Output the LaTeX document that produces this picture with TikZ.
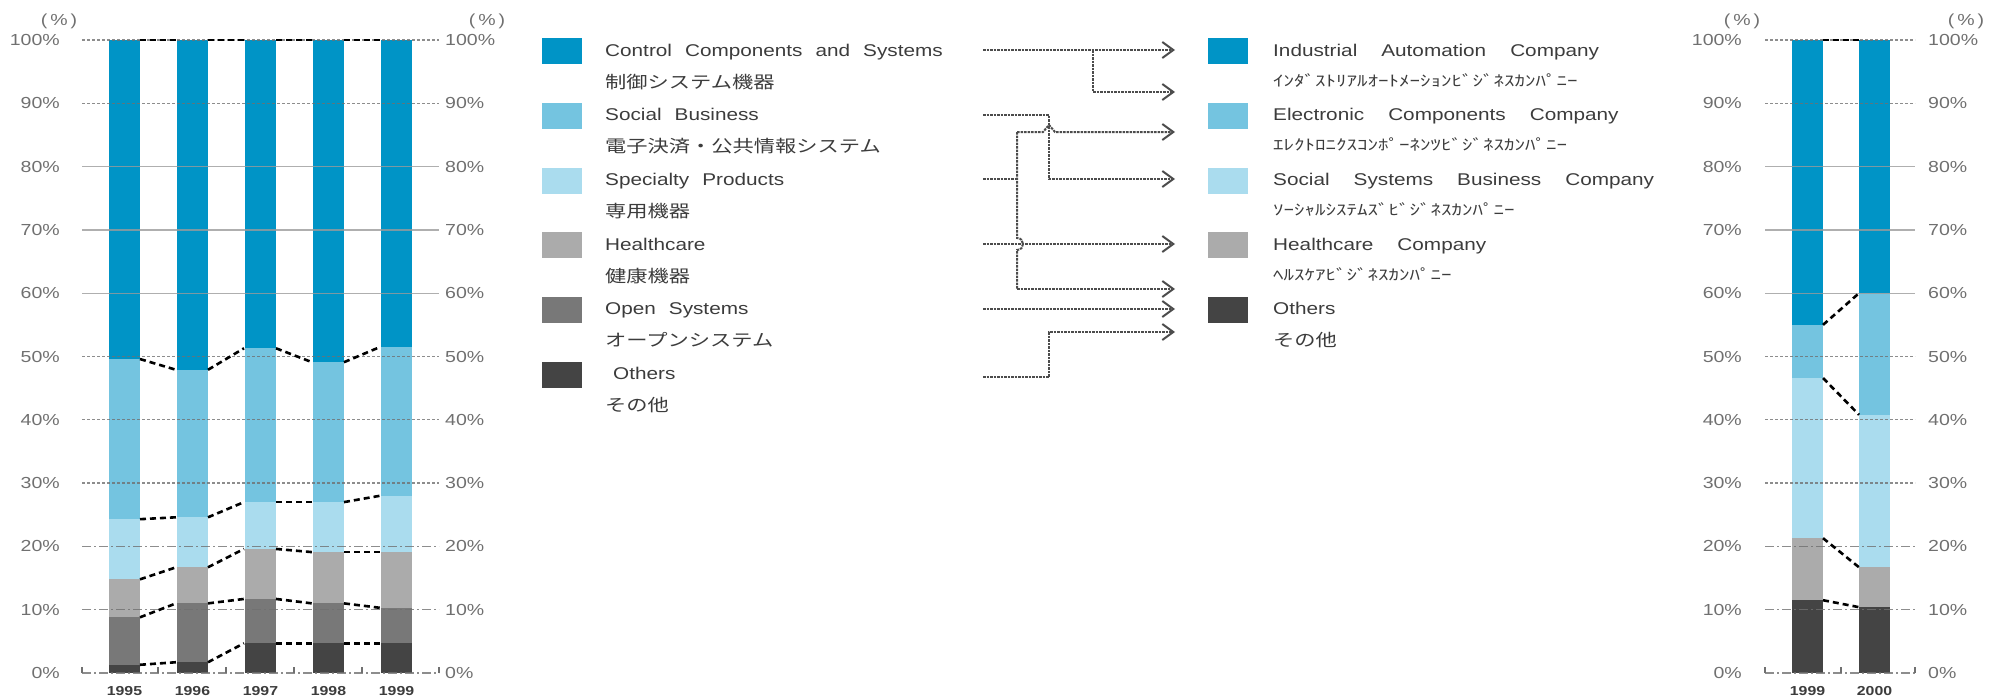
\documentclass[tikz,border=0pt]{standalone}
\usepackage{fontspec}
\setmainfont{Liberation Sans}[FakeStretch=1.22]
\newfontfamily\jpfont{Noto Sans CJK JP}[FakeStretch=1.25]
\newfontfamily\jpkana{Noto Sans CJK JP}[FakeStretch=1.4]
\usetikzlibrary{arrows.meta}
\definecolor{cIA}{HTML}{0094C6}
\definecolor{cSB}{HTML}{74C4E0}
\definecolor{cSP}{HTML}{AADCEE}
\definecolor{cHC}{HTML}{ABABAB}
\definecolor{cOS}{HTML}{787878}
\definecolor{cOT}{HTML}{444444}
\definecolor{txt}{HTML}{3C3C3C}
\definecolor{axt}{HTML}{707070}
\newcommand\lgap{\hspace{13pt}}
\newcommand\rgap{\hspace{24pt}}
\begin{document}
\begin{tikzpicture}[x=1pt,y=-1pt,
  conn/.style={line width=2.6pt, dash pattern=on 6pt off 4pt, black},
  gdash/.style={axt, line width=1.3pt, dash pattern=on 3pt off 2pt, opacity=0.8},
  gsolid/.style={axt!70, line width=1.3pt, opacity=0.8},
  gdot/.style={axt, line width=1.3pt, dash pattern=on 9pt off 3pt on 2pt off 3pt, opacity=0.8},
  axl/.style={font=\fontsize{16}{16}\selectfont, text=axt, inner sep=0pt},
  yrl/.style={font=\fontsize{13}{13}\selectfont\bfseries, text=txt, inner sep=0pt},
  sw/.style={minimum width=40pt, minimum height=26pt, inner sep=0pt, anchor=north west},
  en/.style={font=\fontsize{17}{17}\selectfont, text=txt, inner sep=0pt, anchor=base west},
  ja/.style={font=\jpfont\fontsize{17}{17}\selectfont, text=txt, inner sep=0pt, anchor=base west},
  jk/.style={font=\jpkana\fontsize{15}{15}\selectfont, text=txt, inner sep=0pt, anchor=base west},
  flow/.style={line width=2pt, draw=black!70, dash pattern=on 2.5pt off 1pt},
  fa/.style={flow, -{Straight Barb[length=11pt,width=16pt,line width=2pt]}}]
\useasboundingbox (0,0) rectangle (2004,699);

% ===== left chart bars =====
\foreach \x/\a/\b/\c/\d/\e in {109/1.3/8.8/14.8/24.3/49.6,177/1.7/11/16.7/24.6/47.9,245/4.7/11.7/19.6/27/51.3,313/4.7/11/19.1/27/49.1,381/4.7/10.3/19.1/28/51.5}{
  \fill[cOT] (\x,673) rectangle (\x+31,673-6.33*\a);
  \fill[cOS] (\x,673-6.33*\a) rectangle (\x+31,673-6.33*\b);
  \fill[cHC] (\x,673-6.33*\b) rectangle (\x+31,673-6.33*\c);
  \fill[cSP] (\x,673-6.33*\c) rectangle (\x+31,673-6.33*\d);
  \fill[cSB] (\x,673-6.33*\d) rectangle (\x+31,673-6.33*\e);
  \fill[cIA] (\x,673-6.33*\e) rectangle (\x+31,40);
}
% ===== right chart bars =====
\foreach \x/\a/\b/\c/\d in {1792/11.5/21.3/46.6/55,1859/10.4/16.7/40.8/60}{
  \fill[cOT] (\x,673) rectangle (\x+31,673-6.33*\a);
  \fill[cHC] (\x,673-6.33*\a) rectangle (\x+31,673-6.33*\b);
  \fill[cSP] (\x,673-6.33*\b) rectangle (\x+31,673-6.33*\c);
  \fill[cSB] (\x,673-6.33*\c) rectangle (\x+31,673-6.33*\d);
  \fill[cIA] (\x,673-6.33*\d) rectangle (\x+31,40);
}

% ===== gridlines =====
\foreach \xl/\xr in {82/439,1765/1915}{
  \foreach \p in {100,90,50,40,30} \draw[gdash] (\xl,673-6.33*\p) -- (\xr,673-6.33*\p);
  \foreach \p in {80,70,60} \draw[gsolid] (\xl,673-6.33*\p) -- (\xr,673-6.33*\p);
  \foreach \p in {20,10,0} \draw[gdot] (\xl,673-6.33*\p) -- (\xr,673-6.33*\p);
}
\foreach \t in {82,158,226,294,362,439,1765,1841,1915}
  \draw[axt, line width=1.3pt] (\t,673) -- (\t,667);

% ===== connectors between bars =====
\foreach \xa/\pa/\pb in {109/1.3/1.7,109/8.8/11,109/14.8/16.7,109/24.3/24.6,109/49.6/47.9,109/100/100,
  177/1.7/4.7,177/11/11.7,177/16.7/19.6,177/24.6/27,177/47.9/51.3,177/100/100,
  245/4.7/4.7,245/11.7/11,245/19.6/19.1,245/27/27,245/51.3/49.1,245/100/100,
  313/4.7/4.7,313/11/10.3,313/19.1/19.1,313/27/28,313/49.1/51.5,313/100/100,
  1792/11.5/10.4,1792/21.3/16.7,1792/46.6/40.8,1792/55/60,1792/100/100}
  \draw[conn] (\xa+31,673-6.33*\pa) -- (\xa+67,673-6.33*\pb);

% ===== axis labels =====
\foreach \p in {0,10,...,100}{
  \node[axl, anchor=east] (la\p) at (60,673-6.33*\p) {\p\%};
  \node[axl, anchor=west] (ra\p) at (445,673-6.33*\p) {\p\%};
  \node[axl, anchor=east] (lb\p) at (1742,673-6.33*\p) {\p\%};
  \node[axl, anchor=west] (rb\p) at (1928,673-6.33*\p) {\p\%};
}
\node[axl] (pc1) at (59,21) {(\hspace{3pt}\%\hspace{3pt})};
\node[axl] (pc2) at (487,21) {(\hspace{3pt}\%\hspace{3pt})};
\node[axl] (pc3) at (1742,21) {(\hspace{3pt}\%\hspace{3pt})};
\node[axl] (pc4) at (1966,21) {(\hspace{3pt}\%\hspace{3pt})};

\node[yrl] (y95) at (124.5,691) {1995};
\node[yrl] (y96) at (192.5,691) {1996};
\node[yrl] (y97) at (260.5,691) {1997};
\node[yrl] (y98) at (328.5,691) {1998};
\node[yrl] (y99) at (396.5,691) {1999};
\node[yrl] (z99) at (1807.5,691) {1999};
\node[yrl] (z00) at (1874.5,691) {2000};

% ===== left legend =====
\node[sw, fill=cIA] (s1) at (542,38) {};
\node[sw, fill=cSB] (s2) at (542,102.7) {};
\node[sw, fill=cSP] (s3) at (542,167.4) {};
\node[sw, fill=cHC] (s4) at (542,232.1) {};
\node[sw, fill=cOS] (s5) at (542,296.8) {};
\node[sw, fill=cOT] (s6) at (542,361.5) {};
\node[en] (e1) at (605,56) {Control\lgap Components\lgap and\lgap Systems};
\node[ja] (j1) at (605,88) {制御システム機器};
\node[en] (e2) at (605,120.7) {Social\lgap Business};
\node[ja] (j2) at (605,152.7) {電子決済・公共情報システム};
\node[en] (e3) at (605,185.4) {Specialty\lgap Products};
\node[ja] (j3) at (605,217.4) {専用機器};
\node[en] (e4) at (605,250.1) {Healthcare};
\node[ja] (j4) at (605,282.1) {健康機器};
\node[en] (e5) at (605,314.8) {Open\lgap Systems};
\node[ja] (j5) at (605,346.8) {オープンシステム};
\node[en] (e6) at (613,379.5) {Others};
\node[ja] (j6) at (605,411.5) {その他};

% ===== right legend =====
\node[sw, fill=cIA] (r1) at (1208,38) {};
\node[sw, fill=cSB] (r2) at (1208,102.7) {};
\node[sw, fill=cSP] (r3) at (1208,167.4) {};
\node[sw, fill=cHC] (r4) at (1208,232.1) {};
\node[sw, fill=cOT] (r5) at (1208,296.8) {};
\node[en] (f1) at (1273,56) {Industrial\rgap Automation\rgap Company};
\node[jk] (k1) at (1273,86) {ｲﾝﾀﾞｽﾄﾘｱﾙｵｰﾄﾒｰｼｮﾝﾋﾞｼﾞﾈｽｶﾝﾊﾟﾆｰ};
\node[en] (f2) at (1273,120.7) {Electronic\rgap Components\rgap Company};
\node[jk] (k2) at (1273,150.7) {ｴﾚｸﾄﾛﾆｸｽｺﾝﾎﾟｰﾈﾝﾂﾋﾞｼﾞﾈｽｶﾝﾊﾟﾆｰ};
\node[en] (f3) at (1273,185.4) {Social\rgap Systems\rgap Business\rgap Company};
\node[jk] (k3) at (1273,215.4) {ｿｰｼｬﾙｼｽﾃﾑｽﾞﾋﾞｼﾞﾈｽｶﾝﾊﾟﾆｰ};
\node[en] (f4) at (1273,250.1) {Healthcare\rgap Company};
\node[jk] (k4) at (1273,280.1) {ﾍﾙｽｹｱﾋﾞｼﾞﾈｽｶﾝﾊﾟﾆｰ};
\node[en] (f5) at (1273,314.8) {Others};
\node[ja] (k5) at (1273,346.8) {その他};

% ===== flow arrows =====
\coordinate (sCC) at (983,50);
\coordinate (sSB) at (983,115);
\coordinate (sSP) at (983,179);
\coordinate (sHC) at (983,244);
\coordinate (sOS) at (983,309);
\coordinate (sOT) at (983,377);
\coordinate (bCC) at (1093,50);
\coordinate (vSP) at (1017,179);
\coordinate (tIA1) at (1175,50);
\coordinate (tIA2) at (1175,92);
\coordinate (tEC) at (1175,132);
\coordinate (tSS) at (1175,179);
\coordinate (tHC1) at (1175,244);
\coordinate (tHC2) at (1175,289);
\coordinate (tOT1) at (1175,309);
\coordinate (tOT2) at (1175,332);

\draw[fa] (sCC) -- (tIA1);
\draw[fa] (bCC) |- (tIA2);
\draw[fa] (sSB) -| (1049,179) -- (tSS);
\draw[flow] (sSP) -- (vSP);
\draw[flow] (1017,132) -- (1017,238) .. controls (1025,238) and (1025,250) .. (1017,250) -- (1017,289);
\draw[fa] (1017,132) -- (1043,132) -- (1049,125) -- (1055,132) -- (tEC);
\draw[fa] (1017,289) -- (tHC2);
\draw[fa] (sHC) -- (tHC1);
\draw[fa] (sOS) -- (tOT1);
\draw[fa] (sOT) -| (1049,332) -- (tOT2);
\end{tikzpicture}
\end{document}
